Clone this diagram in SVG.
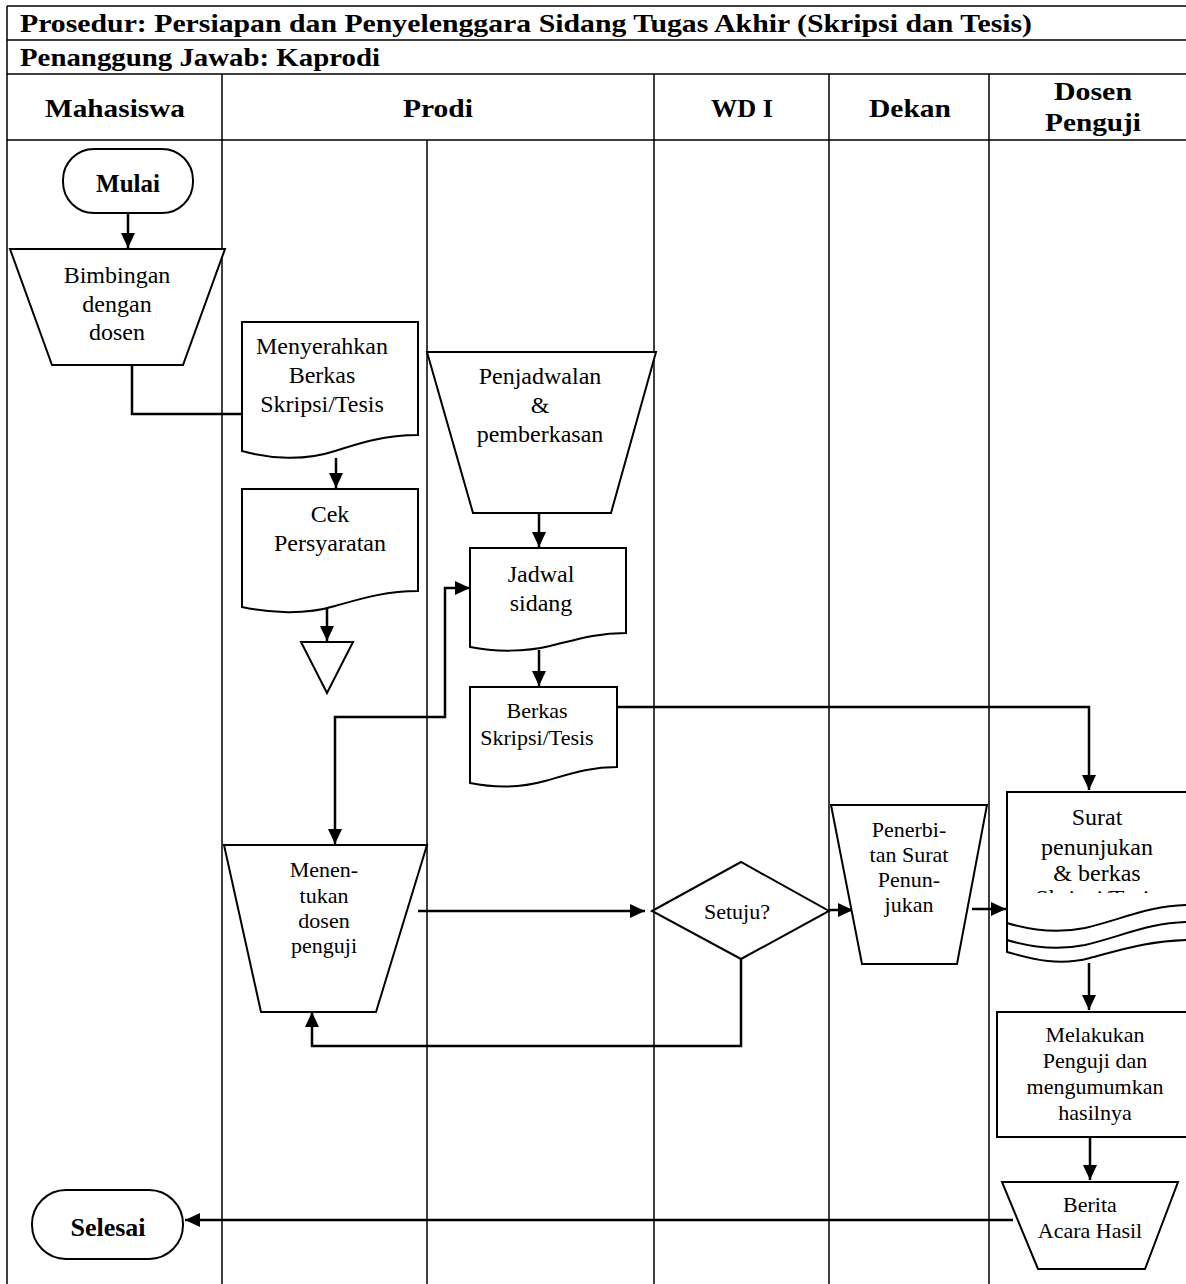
<svg xmlns="http://www.w3.org/2000/svg" width="1186" height="1284" viewBox="0 0 1186 1284">
<style>
.tbl{stroke:#000;stroke-width:1.5;fill:none}
.shape{fill:#fff;stroke:#000;stroke-width:2}
.conn{fill:none;stroke:#000;stroke-width:2.5}
.t{font-family:"Liberation Serif","Times New Roman",serif;font-size:24px;text-anchor:middle;fill:#000}
.s{font-size:22px}
.b{font-weight:bold;font-size:25px}
.h{font-family:"Liberation Serif","Times New Roman",serif;font-weight:bold;font-size:26px;fill:#000}
</style>
<defs>
<marker id="arr" markerUnits="userSpaceOnUse" markerWidth="15" markerHeight="14" viewBox="0 0 15 14" refX="15" refY="7" orient="auto-start-reverse">
<path d="M0,0 L15,7 L0,14 Z" fill="#000"/>
</marker>
</defs>
<rect width="1186" height="1284" fill="#fff"/>
<g id="table">
<path class="tbl" d="M7,6 H1186 M7,40 H1186 M7,74 H1186 M7,140 H1186 M7,6 V1284 M222,74 V1284 M427,140 V1284 M654,74 V1284 M829,74 V1284 M989,74 V1284"/>
<text class="h" x="20" y="32" textLength="1012" lengthAdjust="spacingAndGlyphs">Prosedur: Persiapan dan Penyelenggara Sidang Tugas Akhir (Skripsi dan Tesis)</text>
<text class="h" x="20" y="66" textLength="360" lengthAdjust="spacingAndGlyphs">Penanggung Jawab: Kaprodi</text>
<text class="h" x="45" y="117" textLength="140" lengthAdjust="spacingAndGlyphs">Mahasiswa</text>
<text class="h" x="403" y="117" textLength="70" lengthAdjust="spacingAndGlyphs">Prodi</text>
<text class="h" x="711" y="117" textLength="62" lengthAdjust="spacingAndGlyphs">WD I</text>
<text class="h" x="869" y="117" textLength="82" lengthAdjust="spacingAndGlyphs">Dekan</text>
<text class="h" x="1054" y="100" textLength="78" lengthAdjust="spacingAndGlyphs">Dosen</text>
<text class="h" x="1045" y="131" textLength="96" lengthAdjust="spacingAndGlyphs">Penguji</text>
</g>
<g id="connectors">
<path class="conn" d="M128,213 V248" marker-end="url(#arr)"/>
<path class="conn" d="M132,365 V414 H242"/>
<path class="conn" d="M336,458 V488" marker-end="url(#arr)"/>
<path class="conn" d="M327,607 V641" marker-end="url(#arr)"/>
<path class="conn" d="M539,513 V547" marker-end="url(#arr)"/>
<path class="conn" d="M539,650 V686" marker-end="url(#arr)"/>
<path class="conn" d="M470,588 H445 V717 H335 V844" marker-start="url(#arr)" marker-end="url(#arr)"/>
<path class="conn" d="M617,707 H1089 V790" marker-end="url(#arr)"/>
<path class="conn" d="M418,911 H645" marker-end="url(#arr)"/>
<path class="conn" d="M741,959 V1046 H312 V1012" marker-end="url(#arr)"/>
<path class="conn" d="M829,910 H853" marker-end="url(#arr)"/>
<path class="conn" d="M972,909 H1006" marker-end="url(#arr)"/>
<path class="conn" d="M1089,963 V1010" marker-end="url(#arr)"/>
<path class="conn" d="M1090,1137 V1180" marker-end="url(#arr)"/>
<path class="conn" d="M1013,1220 H185" marker-end="url(#arr)"/>
</g>
<g id="mulai">
<rect class="shape" x="63" y="149" width="130" height="64" rx="31"/>
<text class="t b" x="128" y="192">Mulai</text>
</g>
<g id="bimbingan">
<path class="shape" d="M10,249 H225 L183,365 H52 Z"/>
<text class="t" x="117" y="283">Bimbingan</text>
<text class="t" x="117" y="312">dengan</text>
<text class="t" x="117" y="340">dosen</text>
</g>
<g id="menyerahkan">
<path class="shape" d="M242,322 H418 V435 C385,435 360,443 335,451 C305,461 270,459 242,451 Z"/>
<text class="t" x="322" y="354">Menyerahkan</text>
<text class="t" x="322" y="383">Berkas</text>
<text class="t" x="322" y="412">Skripsi/Tesis</text>
</g>
<g id="cek">
<path class="shape" d="M242,489 H418 V591 C385,591 360,599 335,606 C305,615 270,613 242,607 Z"/>
<text class="t" x="330" y="522">Cek</text>
<text class="t" x="330" y="551">Persyaratan</text>
</g>
<g id="arsip">
<path class="shape" d="M301,642 H353 L327,693 Z"/>
</g>
<g id="penjadwalan">
<path class="shape" d="M427,352 H656 L611,513 H473 Z"/>
<text class="t" x="540" y="384">Penjadwalan</text>
<text class="t" x="540" y="413">&amp;</text>
<text class="t" x="540" y="442">pemberkasan</text>
</g>
<g id="jadwal">
<path class="shape" d="M470,548 H626 V633 C595,633 575,640 550,646 C525,652 495,652 470,647 Z"/>
<text class="t" x="541" y="582">Jadwal</text>
<text class="t" x="541" y="611">sidang</text>
</g>
<g id="berkas">
<path class="shape" d="M470,687 H617 V767 C590,767 570,774 545,781 C520,788 495,788 470,783 Z"/>
<text class="t s" x="537" y="718">Berkas</text>
<text class="t s" x="537" y="745">Skripsi/Tesis</text>
</g>
<g id="menentukan">
<path class="shape" d="M224,845 H427 L376,1012 H261 Z"/>
<text class="t s" x="324" y="877">Menen-</text>
<text class="t s" x="324" y="903">tukan</text>
<text class="t s" x="324" y="928">dosen</text>
<text class="t s" x="324" y="953">penguji</text>
</g>
<g id="setuju">
<path class="shape" d="M652,911 L741,862 L829,911 L741,959 Z"/>
<text class="t s" x="737" y="919">Setuju?</text>
</g>
<g id="penerbitan">
<path class="shape" d="M831,805 H987 L957,964 H862 Z"/>
<text class="t s" x="909" y="837">Penerbi-</text>
<text class="t s" x="909" y="862">tan Surat</text>
<text class="t s" x="909" y="887">Penun-</text>
<text class="t s" x="909" y="912">jukan</text>
</g>
<g id="surat">
<path class="shape" d="M1007,792 H1192 V940 C1150,940 1120,950 1090,958 C1060,966 1035,960 1007,952 Z"/>
<text class="t" x="1097" y="825">Surat</text>
<text class="t" x="1097" y="855">penunjukan</text>
<text class="t" x="1097" y="881">&amp; berkas</text>
<text class="t" x="1097" y="906">Skripsi/Tesis</text>
<path d="M1008,893 H1190 V905 C1150,905 1120,920 1085,928 C1055,934 1030,930 1008,923 Z" fill="#fff"/>
<path class="conn" style="stroke-width:2" d="M1007,923 C1030,930 1055,934 1085,928 C1120,920 1150,905 1190,905"/>
<path class="conn" style="stroke-width:2" d="M1007,940 C1030,947 1055,951 1085,945 C1120,937 1150,922 1190,922"/>
</g>
<g id="melakukan">
<rect class="shape" x="997" y="1012" width="195" height="125"/>
<text class="t s" x="1095" y="1042">Melakukan</text>
<text class="t s" x="1095" y="1068">Penguji dan</text>
<text class="t s" x="1095" y="1094">mengumumkan</text>
<text class="t s" x="1095" y="1120">hasilnya</text>
</g>
<g id="berita">
<path class="shape" d="M1002,1182 H1178 L1145,1269 H1038 Z"/>
<text class="t s" x="1090" y="1212">Berita</text>
<text class="t s" x="1090" y="1238">Acara Hasil</text>
</g>
<g id="selesai">
<rect class="shape" x="32" y="1190" width="151" height="69" rx="34"/>
<text class="t b" x="108" y="1236" style="font-size:26px">Selesai</text>
</g>
</svg>
